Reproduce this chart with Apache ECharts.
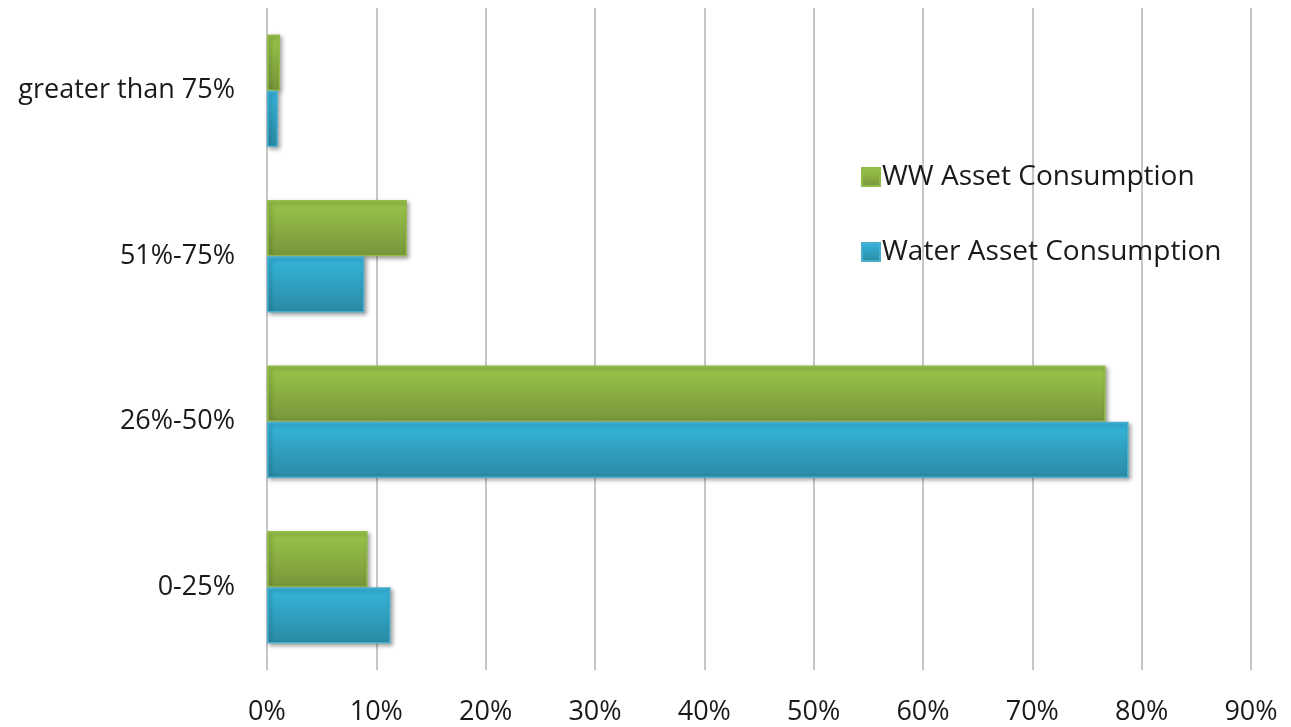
<!DOCTYPE html>
<html>
<head>
<meta charset="utf-8">
<script src="https://cdn.jsdelivr.net/npm/echarts@6/dist/echarts.min.js"></script>
<style>
  html, body { margin: 0; padding: 0; background: #ffffff; }
  #chart { width: 1291px; height: 727px; }
</style>
</head>
<body>
<div id="chart"></div>
<script>
// Share of assets by consumption band
const categories = ['0-25%', '26%-50%', '51%-75%', 'greater than 75%'];
const waterValues = [11.3, 78.8, 8.9, 1.0];
const wwValues = [9.2, 76.7, 12.8, 1.2];
const xTicks = [0, 10, 20, 30, 40, 50, 60, 70, 80, 90];

const FONT = '"Open Sans", "Noto Sans", sans-serif';

function grad(top, bottom) {
  return new echarts.graphic.LinearGradient(0, 0, 0, 1, [
    { offset: 0, color: top },
    { offset: 1, color: bottom }
  ]);
}

const chart = echarts.init(document.getElementById('chart'));
chart.setOption({
  animation: false,
  backgroundColor: '#ffffff',
  grid: { left: 267, right: 40, top: 8, bottom: 57, containLabel: false },
  legend: {
    orient: 'vertical',
    left: 856,
    top: 158,
    icon: 'rect',
    itemWidth: 18,
    itemHeight: 18,
    itemGap: 47,
    data: ['WW Asset Consumption', 'Water Asset Consumption'],
    textStyle: { fontFamily: FONT, fontSize: 28, color: '#1a1a1a', padding: [0, 0, 0, -3] }
  },
  xAxis: {
    type: 'value',
    min: xTicks[0],
    max: xTicks[xTicks.length - 1],
    interval: 10,
    axisLine: { show: false },
    axisTick: { show: false },
    axisLabel: {
      margin: 29,
      fontFamily: FONT,
      fontSize: 27,
      color: '#1a1a1a',
      formatter: v => v + '%'
    },
    splitLine: { show: true, lineStyle: { color: '#c6c6c6', width: 2 } }
  },
  yAxis: {
    type: 'category',
    data: categories,
    axisLine: { show: false },
    axisTick: { show: false },
    axisLabel: {
      margin: 32,
      fontFamily: FONT,
      fontSize: 27,
      color: '#1a1a1a'
    },
    splitLine: { show: false }
  },
  series: [
    {
      name: 'WW Asset Consumption',
      type: 'bar',
      data: wwValues,
      barGap: '0%',
      barCategoryGap: '32%',
      itemStyle: {
        color: grad('#9cc54b', '#76963a'),
        borderColor: '#93bb4a',
        borderWidth: 1.5,
        shadowColor: 'rgba(0,0,0,0.35)',
        shadowBlur: 4,
        shadowOffsetX: 2,
        shadowOffsetY: 2
      }
    },
    {
      name: 'Water Asset Consumption',
      type: 'bar',
      data: waterValues,
      barGap: '0%',
      barCategoryGap: '32%',
      itemStyle: {
        color: grad('#36b6dd', '#2a8aa4'),
        borderColor: '#4bb0cf',
        borderWidth: 1.5,
        shadowColor: 'rgba(0,0,0,0.35)',
        shadowBlur: 4,
        shadowOffsetX: 2,
        shadowOffsetY: 2
      }
    }
  ]
});
</script>
</body>
</html>
